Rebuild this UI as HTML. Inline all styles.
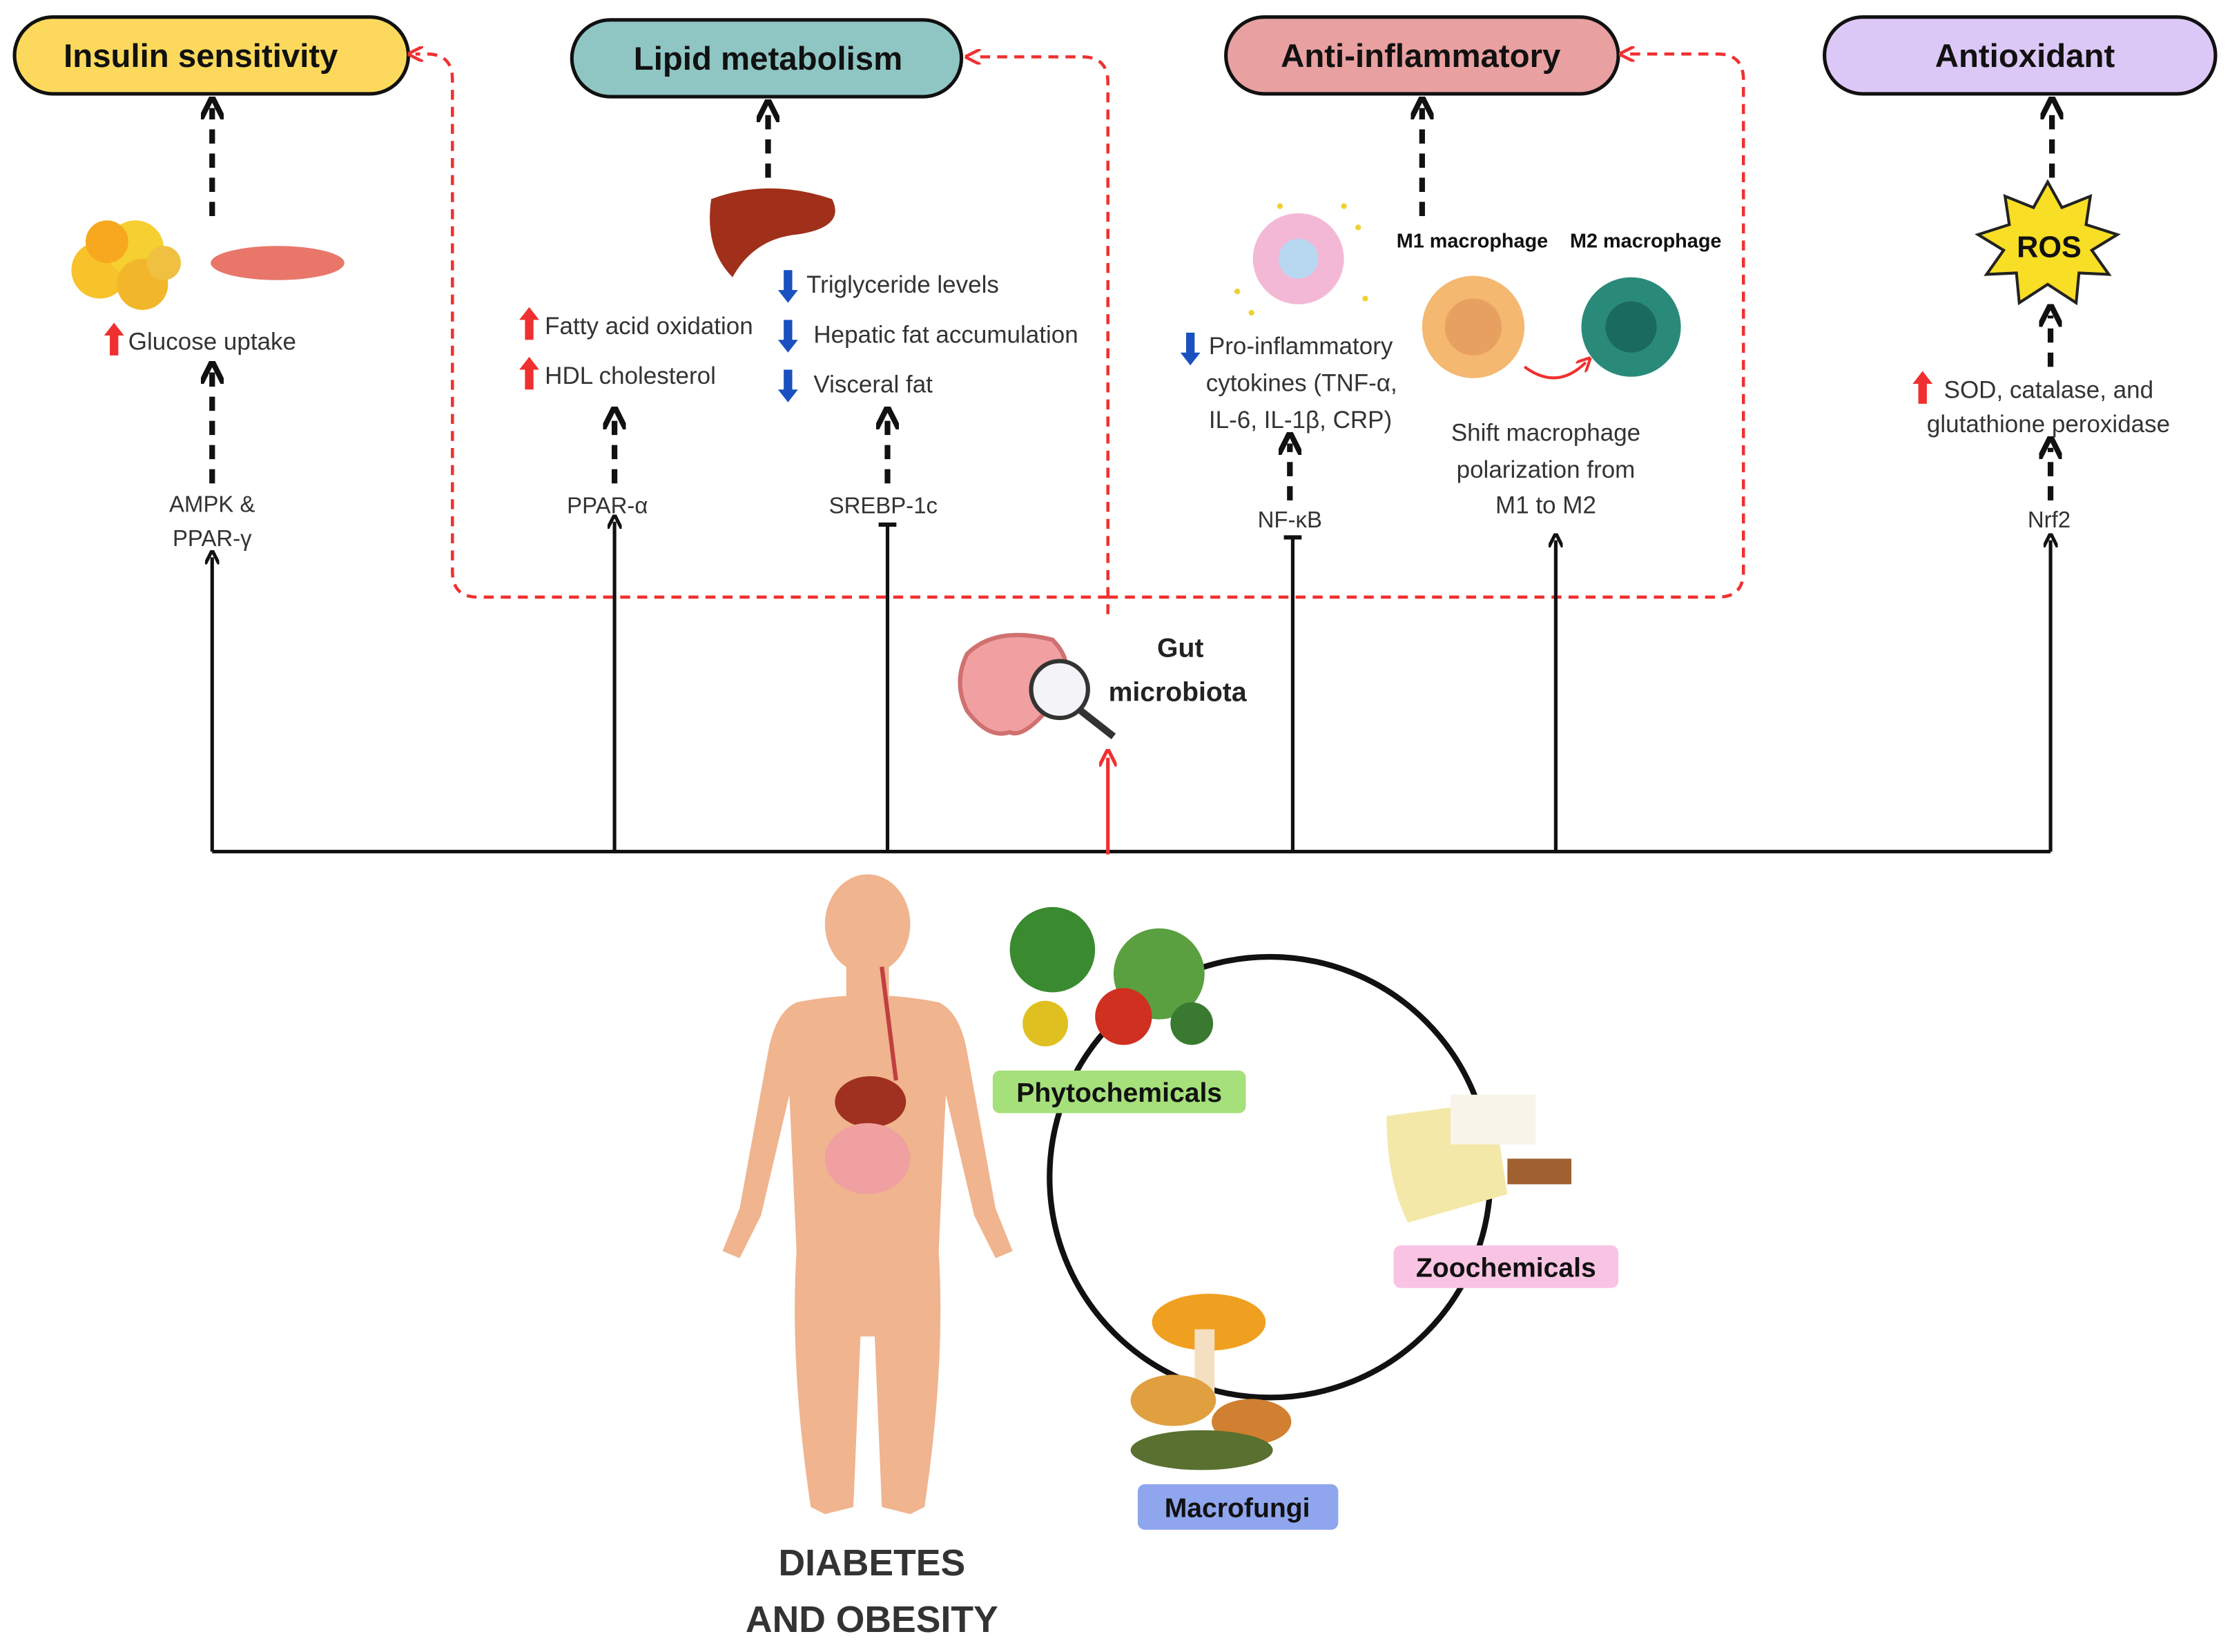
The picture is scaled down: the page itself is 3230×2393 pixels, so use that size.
<!DOCTYPE html>
<html><head><meta charset="utf-8"><style>
html,body{margin:0;padding:0;background:#fff;}
svg{display:block;}
text{font-family:"Liberation Sans",Arial,sans-serif;}
</style></head><body>
<svg width="3230" height="2393" viewBox="0 0 1568 1162" xmlns="http://www.w3.org/2000/svg">
<defs>
<marker id="ab" viewBox="0 0 10 10" refX="5" refY="5" markerWidth="4" markerHeight="4" orient="auto"><path d="M0,0 L10,5 L0,10" fill="none" stroke="#111" stroke-width="2.4"/></marker>
<marker id="ar" viewBox="0 0 10 10" refX="5" refY="5" markerWidth="5" markerHeight="5" orient="auto"><path d="M0,0 L10,5 L0,10" fill="none" stroke="#f03030" stroke-width="2"/></marker>
<marker id="at" viewBox="0 0 10 10" refX="5" refY="5" markerWidth="5" markerHeight="5" orient="auto"><path d="M5,0 L5,10" stroke="#111" stroke-width="2.4"/></marker>
</defs>

<rect x="10" y="12" width="277" height="54" rx="27" fill="#fcd95c" stroke="#111" stroke-width="2.5"/>
<text x="141" y="47" font-size="23" font-weight="bold" text-anchor="middle" fill="#111">Insulin sensitivity</text>
<rect x="402" y="14" width="274" height="54" rx="27" fill="#8fc6c4" stroke="#111" stroke-width="2.5"/>
<text x="540" y="49" font-size="23" font-weight="bold" text-anchor="middle" fill="#111">Lipid metabolism</text>
<rect x="862" y="12" width="276" height="54" rx="27" fill="#e8a0a0" stroke="#111" stroke-width="2.5"/>
<text x="999" y="47" font-size="23" font-weight="bold" text-anchor="middle" fill="#111">Anti-inflammatory</text>
<rect x="1283" y="12" width="275" height="54" rx="27" fill="#dcc8f6" stroke="#111" stroke-width="2.5"/>
<text x="1424" y="47" font-size="23" font-weight="bold" text-anchor="middle" fill="#111">Antioxidant</text>

<g fill="none" stroke="#f03030" stroke-width="2.2" stroke-dasharray="7,5">
<path d="M779,432 V58 Q779,40 761,40 H684" marker-end="url(#ar)"/>
<path d="M779,420 H336 Q318,420 318,402 V56 Q318,38 300,38 H292" marker-end="url(#ar)"/>
<path d="M779,420 H1208 Q1226,420 1226,402 V56 Q1226,38 1208,38 H1144" marker-end="url(#ar)"/>
</g>

<g fill="none" stroke="#111" stroke-width="4" stroke-dasharray="10,7">
<path d="M149,152 V76" marker-end="url(#ab)"/>
<path d="M540,125 V78" marker-end="url(#ab)"/>
<path d="M1000,152 V76" marker-end="url(#ab)"/>
<path d="M1443,125 V76" marker-end="url(#ab)"/>
<path d="M149,340 V262" marker-end="url(#ab)"/>
<path d="M432,340 V294" marker-end="url(#ab)"/>
<path d="M624,340 V294" marker-end="url(#ab)"/>
<path d="M907,352 V312" marker-end="url(#ab)"/>
<path d="M1442,352 V315" marker-end="url(#ab)"/>
<path d="M1442,258 V222" marker-end="url(#ab)"/>
</g>

<g fill="none" stroke="#111" stroke-width="2.5">
<path d="M149,599 H1442"/>
<path d="M149,599 V392" marker-end="url(#ab)"/>
<path d="M432,599 V367" marker-end="url(#ab)"/>
<path d="M624,599 V369" marker-end="url(#at)"/>
<path d="M909,599 V378" marker-end="url(#at)"/>
<path d="M1094,599 V380" marker-end="url(#ab)"/>
<path d="M1442,599 V380" marker-end="url(#ab)"/>
</g>
<path d="M779,601 V533" stroke="#f03030" stroke-width="2.5" fill="none" marker-end="url(#ar)"/>

<g font-size="16" fill="#333" text-anchor="middle">
<text x="149" y="360">AMPK &amp;</text>
<text x="149" y="384">PPAR-γ</text>
<text x="427" y="361">PPAR-α</text>
<text x="621" y="361">SREBP-1c</text>
<text x="907" y="371">NF-κB</text>
<text x="1441" y="371">Nrf2</text>
</g>
<g font-size="17" fill="#333" text-anchor="middle">
<text x="1087" y="310">Shift macrophage</text>
<text x="1087" y="336">polarization from</text>
<text x="1087" y="361">M1 to M2</text>
</g>
<g font-size="17" fill="#333">
<text x="90" y="246">Glucose uptake</text>
<text x="383" y="235">Fatty acid oxidation</text>
<text x="383" y="270">HDL cholesterol</text>
<text x="567" y="206">Triglyceride levels</text>
<text x="572" y="241">Hepatic fat accumulation</text>
<text x="572" y="276">Visceral fat</text>
<text x="850" y="249">Pro-inflammatory</text>
<text x="848" y="275">cytokines (TNF-α,</text>
<text x="850" y="301">IL-6, IL-1β, CRP)</text>
<text x="1367" y="280">SOD, catalase, and</text>
<text x="1355" y="304">glutathione peroxidase</text>
</g>
<text x="982" y="174" font-size="14" font-weight="bold" fill="#111">M1 macrophage</text>
<text x="1104" y="174" font-size="14" font-weight="bold" fill="#111">M2 macrophage</text>
<text x="830" y="462" font-size="19" font-weight="bold" fill="#222" text-anchor="middle">Gut</text>
<text x="828" y="493" font-size="19" font-weight="bold" fill="#222" text-anchor="middle">microbiota</text>

<g fill="#f03030">
<path d="M80,227 l-7,9 h4 v14 h6 v-14 h4 z"/>
<path d="M372,216 l-7,9 h4 v14 h6 v-14 h4 z"/>
<path d="M372,251 l-7,9 h4 v14 h6 v-14 h4 z"/>
<path d="M1352,261 l-7,9 h4 v14 h6 v-14 h4 z"/>
</g>
<g fill="#1a50c0">
<path d="M554,213 l-7,-9 h4 v-14 h6 v14 h4 z"/>
<path d="M554,248 l-7,-9 h4 v-14 h6 v14 h4 z"/>
<path d="M554,283 l-7,-9 h4 v-14 h6 v14 h4 z"/>
<path d="M837,257 l-7,-9 h4 v-14 h6 v14 h4 z"/>
</g>

<g>
<circle cx="70" cy="190" r="20" fill="#f7c22a"/><circle cx="95" cy="175" r="20" fill="#f5d030"/><circle cx="100" cy="200" r="18" fill="#f2b62a"/><circle cx="75" cy="170" r="15" fill="#f7a81e"/><circle cx="115" cy="185" r="12" fill="#f0c040"/>
<ellipse cx="195" cy="185" rx="47" ry="12" fill="#e8776a"/>
<path d="M500,140 Q540,125 585,140 Q595,160 560,165 Q530,168 515,195 Q495,175 500,140z" fill="#a0301a"/>
<circle cx="913" cy="182" r="32" fill="#f3b8d6"/><circle cx="913" cy="182" r="14" fill="#b8d8f2"/>
<g fill="#f0d030"><circle cx="870" cy="205" r="2"/><circle cx="955" cy="160" r="2"/><circle cx="960" cy="210" r="2"/><circle cx="945" cy="145" r="2"/><circle cx="880" cy="220" r="2"/><circle cx="900" cy="145" r="2"/></g>
<circle cx="1036" cy="230" r="36" fill="#f4b870"/><circle cx="1036" cy="230" r="20" fill="#e8a060"/>
<circle cx="1147" cy="230" r="35" fill="#2a8a7a"/><circle cx="1147" cy="230" r="18" fill="#1a6a60"/>
<path d="M1072,258 Q1095,275 1115,255" fill="none" stroke="#f03030" stroke-width="2" marker-end="url(#ar)"/>
<path d="M1440,128 l10,18 20,-8 -3,20 22,7 -18,11 12,17 -21,-1 -2,21 -20,-13 -20,13 -2,-21 -21,1 12,-17 -18,-11 22,-7 -3,-20 20,8z" fill="#f8de25" stroke="#222" stroke-width="2"/>
<text x="1441" y="181" font-size="21" font-weight="bold" text-anchor="middle" fill="#111">ROS</text>
</g>

<path d="M680,460 Q700,440 740,450 Q760,470 740,495 Q720,520 710,515 Q695,520 680,500 Q670,480 680,460z" fill="#f0a0a0" stroke="#d07070" stroke-width="3"/>
<circle cx="745" cy="485" r="20" fill="#f4f4f8" stroke="#333" stroke-width="3"/>
<path d="M760,500 L783,518" stroke="#333" stroke-width="5"/>

<circle cx="893" cy="828" r="155" fill="none" stroke="#111" stroke-width="4"/>
<circle cx="740" cy="668" r="30" fill="#3a8a30"/><circle cx="815" cy="685" r="32" fill="#5aa040"/><circle cx="790" cy="715" r="20" fill="#d03020"/><circle cx="735" cy="720" r="16" fill="#e0c020"/><circle cx="838" cy="720" r="15" fill="#3a7a30"/>
<path d="M975,785 L1050,775 L1060,840 L990,860 Q975,830 975,785z" fill="#f4e8a8"/><rect x="1020" y="770" width="60" height="35" fill="#f8f4ea"/><rect x="1060" y="815" width="45" height="18" fill="#a06030"/>
<ellipse cx="850" cy="930" rx="40" ry="20" fill="#f0a020"/><rect x="840" y="935" width="14" height="50" fill="#f4e0c0"/><ellipse cx="825" cy="985" rx="30" ry="18" fill="#e0a040"/><ellipse cx="880" cy="1000" rx="28" ry="16" fill="#d08030"/><ellipse cx="845" cy="1020" rx="50" ry="14" fill="#5a7030"/>

<rect x="698" y="753" width="178" height="30" rx="5" fill="#a5e07a"/>
<text x="787" y="775" font-size="19" font-weight="bold" text-anchor="middle" fill="#111">Phytochemicals</text>
<rect x="980" y="876" width="158" height="30" rx="5" fill="#f9c3e3"/>
<text x="1059" y="898" font-size="19" font-weight="bold" text-anchor="middle" fill="#111">Zoochemicals</text>
<rect x="800" y="1044" width="141" height="32" rx="5" fill="#8fa6ee"/>
<text x="870" y="1067" font-size="19" font-weight="bold" text-anchor="middle" fill="#111">Macrofungi</text>

<g fill="#f0b48e">
<ellipse cx="610" cy="650" rx="30" ry="35"/>
<rect x="595" y="680" width="30" height="25"/>
<path d="M560,705 Q610,695 660,705 Q675,712 680,740 L700,850 L712,880 L700,885 L685,855 L665,770 L660,880 Q665,960 650,1060 L640,1065 L620,1060 L615,940 L605,940 L600,1060 L580,1065 L570,1060 Q555,960 560,880 L555,770 L535,855 L520,885 L508,880 L520,850 L540,740 Q545,712 560,705z"/>
</g>
<path d="M620,680 Q625,720 630,760" stroke="#c04040" stroke-width="3" fill="none"/>
<ellipse cx="612" cy="775" rx="25" ry="18" fill="#a03020"/>
<ellipse cx="610" cy="815" rx="30" ry="25" fill="#f0a0a0"/>

<text x="613" y="1108" font-size="26" font-weight="bold" text-anchor="middle" fill="#333">DIABETES</text>
<text x="613" y="1148" font-size="26" font-weight="bold" text-anchor="middle" fill="#333">AND OBESITY</text>
</svg>
</body></html>
